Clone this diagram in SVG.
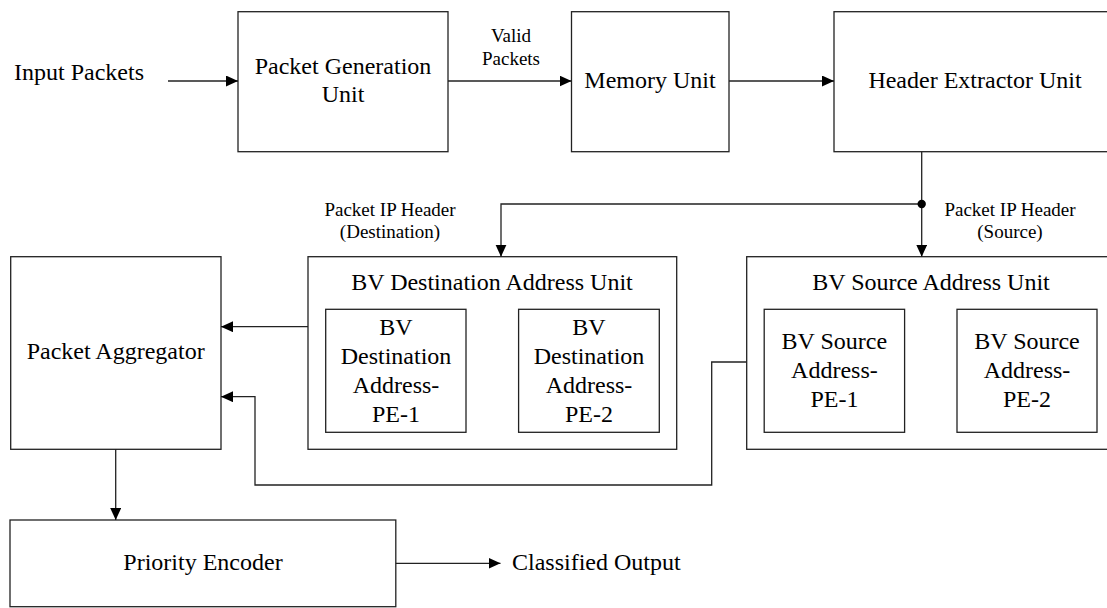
<svg xmlns="http://www.w3.org/2000/svg" width="1107" height="608" viewBox="0 0 1107 608">
<style>
.box{fill:#fff;stroke:#222;stroke-width:1.3}
.t{font-family:"Liberation Serif","Times New Roman",serif;font-size:24px;fill:#000;text-anchor:middle}
.s{font-family:"Liberation Serif","Times New Roman",serif;font-size:19px;fill:#000;text-anchor:middle}
.c{fill:none;stroke:#222;stroke-width:1.3}
</style>
<defs>
<marker id="arr" markerUnits="userSpaceOnUse" markerWidth="12" markerHeight="12" refX="12" refY="5.5" orient="auto">
<path d="M0,0 L12,5.5 L0,11 z" fill="#000"/>
</marker>
</defs>
<rect width="1107" height="608" fill="#fff"/>
<text class="t" x="14" y="80" style="text-anchor:start">Input Packets</text>
<text class="s" x="511" y="42">Valid</text>
<text class="s" x="511" y="65">Packets</text>
<text class="s" x="390" y="216">Packet IP Header</text>
<text class="s" x="390" y="238">(Destination)</text>
<text class="s" x="1010" y="216">Packet IP Header</text>
<text class="s" x="1010" y="238">(Source)</text>
<text class="t" x="512" y="570" style="text-anchor:start">Classified Output</text>
<g id="packet-generation">
<rect class="box" x="238" y="11.7" width="210" height="140"/>
<text class="t" x="343" y="74">Packet Generation</text>
<text class="t" x="343" y="102">Unit</text>
</g>
<g id="memory-unit">
<rect class="box" x="571.5" y="11.7" width="157.5" height="140"/>
<text class="t" x="650" y="88">Memory Unit</text>
</g>
<g id="header-extractor">
<rect class="box" x="834" y="11.7" width="282" height="140"/>
<text class="t" x="975" y="88">Header Extractor Unit</text>
</g>
<g id="packet-aggregator">
<rect class="box" x="10.7" y="256.7" width="210.3" height="192.6"/>
<text class="t" x="115.7" y="359">Packet Aggregator</text>
</g>
<g id="bv-destination-unit">
<rect class="box" x="308" y="256.7" width="368.7" height="192.6"/>
<text class="t" x="492" y="290">BV Destination Address Unit</text>
<g id="bv-dest-pe1">
<rect class="box" x="325.7" y="309.3" width="140.3" height="123"/>
<text class="t" x="396" y="335">BV</text>
<text class="t" x="396" y="364">Destination</text>
<text class="t" x="396" y="393">Address-</text>
<text class="t" x="396" y="422">PE-1</text>
</g>
<g id="bv-dest-pe2">
<rect class="box" x="518.6" y="309.3" width="140.7" height="123"/>
<text class="t" x="589" y="335">BV</text>
<text class="t" x="589" y="364">Destination</text>
<text class="t" x="589" y="393">Address-</text>
<text class="t" x="589" y="422">PE-2</text>
</g>
</g>
<g id="bv-source-unit">
<rect class="box" x="746.7" y="256.7" width="370" height="192.6"/>
<text class="t" x="931" y="290">BV Source Address Unit</text>
<g id="bv-src-pe1">
<rect class="box" x="764.2" y="309.3" width="140.4" height="123"/>
<text class="t" x="834.4" y="349">BV Source</text>
<text class="t" x="834.4" y="378">Address-</text>
<text class="t" x="834.4" y="407">PE-1</text>
</g>
<g id="bv-src-pe2">
<rect class="box" x="957" y="309.3" width="140" height="123"/>
<text class="t" x="1027" y="349">BV Source</text>
<text class="t" x="1027" y="378">Address-</text>
<text class="t" x="1027" y="407">PE-2</text>
</g>
</g>
<g id="priority-encoder">
<rect class="box" x="10" y="520" width="385.8" height="86.7"/>
<text class="t" x="203" y="570">Priority Encoder</text>
</g>
<g id="connectors">
<path class="c" d="M168,81 H238" marker-end="url(#arr)"/>
<path class="c" d="M448,81 H571.5" marker-end="url(#arr)"/>
<path class="c" d="M729,81 H834" marker-end="url(#arr)"/>
<path class="c" d="M921.7,151.7 V256.7" marker-end="url(#arr)"/>
<path class="c" d="M921.7,204 H501 V256.7" marker-end="url(#arr)"/>
<circle cx="921.7" cy="204" r="4.2" fill="#000"/>
<path class="c" d="M308,326.7 H221" marker-end="url(#arr)"/>
<path class="c" d="M746.7,362 H711.7 V485 H255 V396.7 H221" marker-end="url(#arr)"/>
<path class="c" d="M115.7,449.3 V520" marker-end="url(#arr)"/>
<path class="c" d="M395.8,563.3 H500.5" marker-end="url(#arr)"/>
</g>
</svg>
